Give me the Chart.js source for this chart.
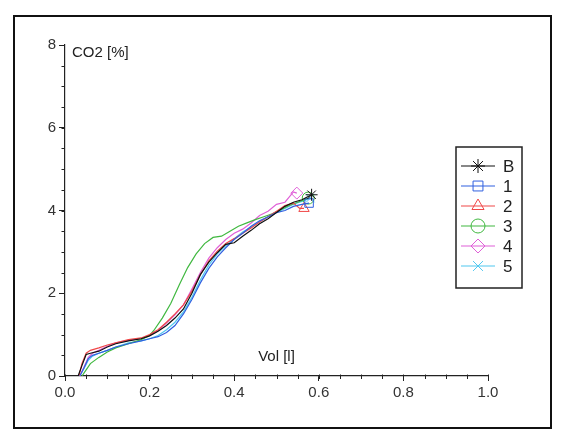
<!DOCTYPE html>
<html>
<head>
<meta charset="utf-8">
<script src="https://cdn.jsdelivr.net/npm/chart.js@4.4.0/dist/chart.umd.min.js"></script>
<style>
  body { margin: 0; background: #fff; }
  #wrap { position: relative; width: 564px; height: 437px; }
  #frame { position: absolute; left: 13px; top: 15px; width: 535px; height: 410px; border: 2px solid #111; }
  canvas { position: absolute; left: 0; top: 0; }
</style>
</head>
<body>
<div id="wrap">
  <div id="frame"></div>
  <canvas id="chart" width="564" height="437"></canvas>
</div>
<script>
// series names + colours
let names = ['B', '1', '2', '3', '4', '5'];
let colors = ['#111111', '#3060e0', '#f04848', '#40b840', '#e060d8', '#50c8f0'];
let markers = ['star', 'rect', 'triangle', 'circle', 'rectRot', 'crossRot'];

// x ticks / y ticks
let xTicks = [0.0, 0.2, 0.4, 0.6, 0.8, 1.0];
let yTicks = [0, 2, 4, 6, 8];

// Vol [l] and CO2 [%] per series
let volB = [0.031,0.04,0.05,0.06,0.08,0.10,0.12,0.15,0.18,0.20,0.22,0.24,0.26,0.28,0.30,0.32,0.34,0.36,0.38,0.40,0.42,0.44,0.46,0.48,0.50,0.52,0.54,0.56,0.583];
let co2B = [0,0.25,0.52,0.55,0.60,0.70,0.78,0.85,0.90,0.97,1.08,1.22,1.40,1.62,2.00,2.45,2.75,2.98,3.18,3.22,3.38,3.52,3.68,3.80,3.95,4.10,4.20,4.26,4.38];

let vol1 = [0.035,0.045,0.055,0.065,0.08,0.10,0.12,0.15,0.18,0.20,0.22,0.24,0.26,0.28,0.30,0.32,0.34,0.36,0.38,0.40,0.42,0.44,0.46,0.48,0.50,0.52,0.54,0.56,0.577];
let co2_1 = [0,0.20,0.42,0.50,0.55,0.62,0.70,0.78,0.85,0.90,0.95,1.05,1.22,1.50,1.85,2.25,2.60,2.88,3.10,3.30,3.45,3.62,3.75,3.85,3.95,4.00,4.10,4.15,4.18];

let vol2 = [0.033,0.04,0.05,0.06,0.08,0.10,0.12,0.15,0.18,0.20,0.22,0.24,0.26,0.28,0.30,0.32,0.34,0.36,0.38,0.40,0.42,0.44,0.46,0.48,0.50,0.52,0.54,0.555,0.565];
let co2_2 = [0,0.30,0.55,0.62,0.68,0.75,0.80,0.88,0.92,1.00,1.12,1.30,1.50,1.72,2.05,2.45,2.78,3.02,3.20,3.32,3.45,3.58,3.72,3.85,3.98,4.12,4.18,4.05,4.05];

let vol3 = [0.04,0.05,0.06,0.08,0.10,0.12,0.15,0.18,0.20,0.21,0.23,0.25,0.27,0.29,0.31,0.33,0.35,0.37,0.39,0.41,0.43,0.45,0.47,0.49,0.51,0.53,0.55,0.575];
let co2_3 = [0,0.15,0.30,0.45,0.58,0.68,0.78,0.88,0.98,1.10,1.40,1.75,2.20,2.62,2.95,3.20,3.35,3.38,3.50,3.62,3.70,3.78,3.85,3.92,4.02,4.12,4.20,4.30];

let vol4 = [0.035,0.045,0.055,0.065,0.08,0.10,0.12,0.15,0.18,0.20,0.22,0.24,0.26,0.28,0.30,0.32,0.34,0.36,0.38,0.40,0.42,0.44,0.46,0.48,0.50,0.52,0.54,0.548];
let co2_4 = [0,0.22,0.45,0.55,0.62,0.72,0.80,0.86,0.90,0.98,1.10,1.28,1.48,1.72,2.10,2.50,2.85,3.10,3.30,3.45,3.55,3.70,3.88,3.98,4.15,4.20,4.45,4.42];

let vol5 = [0.035,0.045,0.055,0.065,0.08,0.10,0.12,0.15,0.18,0.20,0.22,0.24,0.26,0.28,0.30,0.32,0.34,0.36,0.38,0.40,0.42,0.44,0.46,0.48,0.50,0.52,0.54,0.56,0.58];
let co2_5 = [0,0.18,0.38,0.48,0.55,0.62,0.70,0.80,0.85,0.90,0.98,1.12,1.30,1.55,1.90,2.32,2.68,2.95,3.15,3.32,3.48,3.60,3.72,3.85,3.95,4.05,4.15,4.22,4.30];

let vols = [volB, vol1, vol2, vol3, vol4, vol5];
let co2s = [co2B, co2_1, co2_2, co2_3, co2_4, co2_5];

/*******************************************************************/

function toPoints(xs, ys) {
  let pts = [];
  for (let i = 0; i < xs.length; i++) pts.push({ x: xs[i], y: ys[i] });
  return pts;
}

let datasets = [];
for (let s = 0; s < names.length; s++) {
  let n = vols[s].length;
  datasets.push({
    label: names[s],
    data: toPoints(vols[s], co2s[s]),
    borderColor: colors[s],
    backgroundColor: 'rgba(0,0,0,0)',
    borderWidth: 1.2,
    pointStyle: markers[s],
    pointBorderColor: colors[s],
    pointBackgroundColor: 'rgba(0,0,0,0)',
    pointBorderWidth: 1,
    pointRadius: c => (c.dataIndex === n - 1 ? 6 : 0),
    pointHoverRadius: 0,
    tension: 0
  });
}

// minor ticks, axis captions and the boxed legend
let decorations = {
  id: 'decorations',
  afterDraw(chart) {
    let ctx = chart.ctx;
    let xs = chart.scales.x, ys = chart.scales.y;
    ctx.save();
    ctx.strokeStyle = '#222';
    ctx.lineWidth = 1;
    // minor ticks x every 0.05
    for (let v = 0; v <= 1.0001; v += 0.05) {
      let px = Math.round(xs.getPixelForValue(v)) + 0.5;
      ctx.beginPath();
      ctx.moveTo(px, ys.bottom - 1.5);
      ctx.lineTo(px, ys.bottom + 3);
      ctx.stroke();
    }
    // minor ticks y every 0.5
    for (let v = 0; v <= 8.0001; v += 0.5) {
      let py = Math.round(ys.getPixelForValue(v)) + 0.5;
      ctx.beginPath();
      ctx.moveTo(xs.left - 3.5, py);
      ctx.lineTo(xs.left, py);
      ctx.stroke();
    }
    // axis captions
    ctx.fillStyle = '#222';
    ctx.font = '15px "Liberation Sans", Arial, sans-serif';
    ctx.textBaseline = 'middle';
    ctx.textAlign = 'left';
    ctx.fillText('CO2 [%]', xs.left + 7, ys.top + 8);
    ctx.textAlign = 'center';
    ctx.fillText('Vol [l]', xs.getPixelForValue(0.5), ys.bottom - 19);

    // legend box
    let bx = 456, by = 147, bw = 66, bh = 141;
    ctx.lineWidth = 1.5;
    ctx.strokeStyle = '#222';
    ctx.strokeRect(bx, by, bw, bh);
    ctx.font = '17px "Liberation Sans", Arial, sans-serif';
    ctx.textAlign = 'left';
    for (let s = 0; s < names.length; s++) {
      let ly = by + 19 + s * 20;
      ctx.strokeStyle = colors[s];
      ctx.lineWidth = 1.2;
      ctx.beginPath();
      ctx.moveTo(bx + 5, ly);
      ctx.lineTo(bx + 39, ly);
      ctx.stroke();
      ctx.lineWidth = 1;
      ctx.fillStyle = 'rgba(0,0,0,0)';
      Chart.helpers.drawPoint(ctx, { pointStyle: markers[s], radius: 7, rotation: 0, borderWidth: 1 }, bx + 22, ly);
      ctx.fillStyle = '#222';
      ctx.fillText(names[s], bx + 47, ly + 1);
    }
    ctx.restore();
  }
};

let ctx1 = document.getElementById('chart').getContext('2d');
let myChart = new Chart(ctx1, {
  type: 'line',
  data: { datasets: datasets },
  options: {
    responsive: false,
    animation: false,
    layout: { padding: { left: 0, right: 76, top: 45, bottom: 0 } },
    plugins: {
      legend: { display: false },
      tooltip: { enabled: false }
    },
    scales: {
      x: {
        type: 'linear',
        min: 0, max: 1,
        afterFit: scale => { scale.height = 437 - 376; },
        afterBuildTicks: scale => { scale.ticks = xTicks.map(v => ({ value: v })); },
        ticks: {
          color: '#333',
          font: { size: 15, family: '"Liberation Sans", Arial, sans-serif' },
          padding: 3,
          maxRotation: 0,
          callback: v => v.toFixed(1)
        },
        grid: { drawOnChartArea: false, drawTicks: true, tickLength: 5, color: '#222' },
        border: { color: '#222', width: 1.2 }
      },
      y: {
        type: 'linear',
        min: 0, max: 8,
        afterFit: scale => { scale.width = 65; },
        afterBuildTicks: scale => { scale.ticks = yTicks.map(v => ({ value: v })); },
        ticks: {
          color: '#333',
          font: { size: 15, family: '"Liberation Sans", Arial, sans-serif' },
          padding: 3
        },
        grid: { drawOnChartArea: false, drawTicks: true, tickLength: 6, color: '#222' },
        border: { color: '#222', width: 1.2 }
      }
    }
  },
  plugins: [decorations]
});
</script>
</body>
</html>
